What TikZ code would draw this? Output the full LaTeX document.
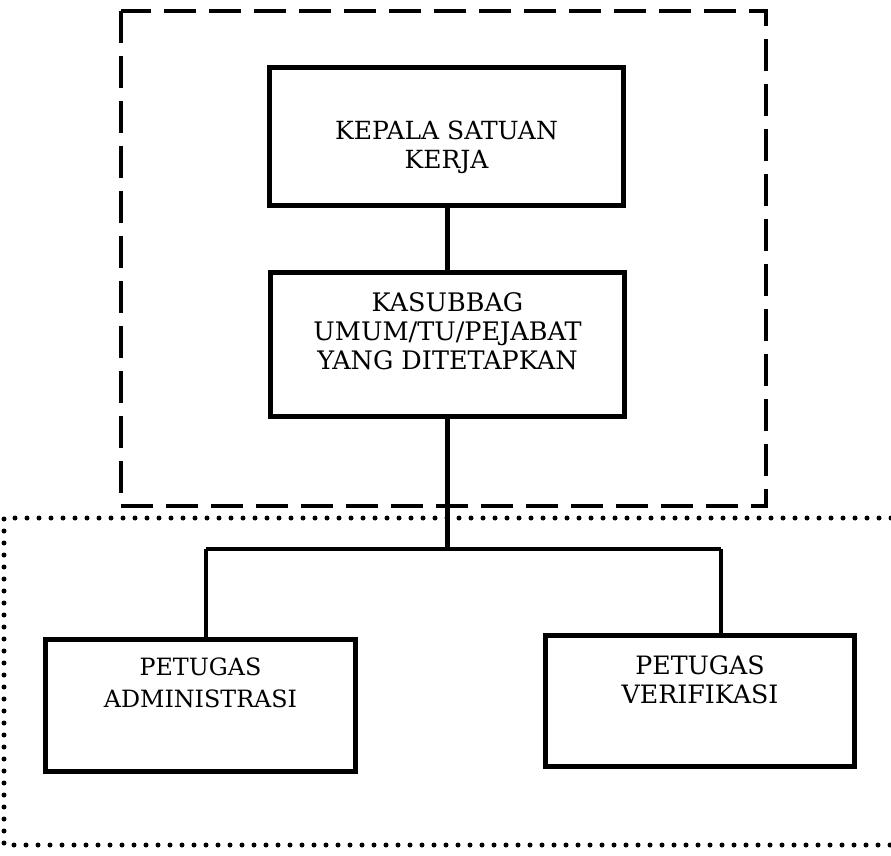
\documentclass[tikz,border=0pt]{standalone}
\usepackage{fontspec}
\setmainfont{DejaVu Serif}
\newcommand{\bxtext}[4]{\parbox[c][#1][t]{#2}{\centering\vspace*{#3}#4\par}}
\begin{document}
\begin{tikzpicture}[x=1pt,y=-1pt,
  orgbox/.style={draw,line width=5pt,inner sep=0pt,anchor=north west},
  conn/.style={line width=4.5pt},
  dashframe/.style={line width=3.3pt,dash pattern=on 32pt off 13pt},
  dotframe/.style={line width=5pt,line cap=round,dash pattern=on 0pt off 12pt}]
\useasboundingbox (0,0) rectangle (891,855);
% frames
\draw[dashframe] (121,11) rectangle (766,506);
\draw[dotframe] (891,518) -- (4,518) -- (4,845) -- (891,845);
% boxes
\node[orgbox] (top) at (267,65)
  {\bxtext{138pt}{354pt}{53.5pt}{\fontsize{25}{29}\selectfont KEPALA SATUAN\\KERJA}};
\node[orgbox] (mid) at (268,270)
  {\bxtext{144pt}{354pt}{20.5pt}{\fontsize{25.5}{29}\selectfont KASUBBAG\\UMUM/TU/PEJABAT\\YANG DITETAPKAN}};
\node[orgbox] (adm) at (43,637)
  {\bxtext{132pt}{310pt}{18.5pt}{\fontsize{23.8}{32}\selectfont PETUGAS\\ADMINISTRASI}};
\node[orgbox] (ver) at (543,633)
  {\bxtext{131pt}{309pt}{20.5pt}{\fontsize{25.3}{29}\selectfont PETUGAS\\VERIFIKASI}};
% connectors
\coordinate (j) at (445,549);
\coordinate (jl) at (206,549);
\coordinate (jr) at (721,549);
\draw[conn] (mid.north |- top.south) -- (mid.north);
\draw[conn] (mid.south) -- (mid.south |- j);
\draw[conn] (jl) -- (jr);
\draw[conn] (jl) -- (jl |- adm.north);
\draw[conn] (jr) -- (jr |- ver.north);
\end{tikzpicture}
\end{document}
